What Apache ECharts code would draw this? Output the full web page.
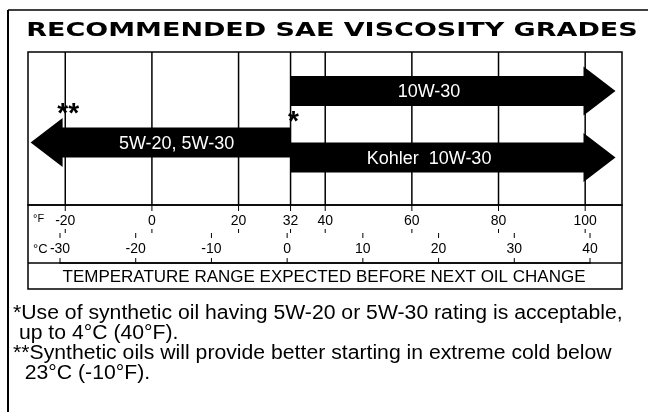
<!DOCTYPE html>
<html lang="en">
<head>
	<meta charset="UTF-8">
	<title>Recommended SAE viscosity grades</title>
	<script src="https://cdn.jsdelivr.net/npm/echarts@6.0.0/dist/echarts.min.js"></script>
	<style>
		html,body{margin:0;padding:0;background:#fff;}
		#chart{width:648px;height:412px;}
	</style>
</head>
<body>
	<div id="chart"></div>
	<script>
	// data
	var grades = ['10W-30', '5W-20, 5W-30', 'Kohler  10W-30'];
	var gradeFromF = [32, 32, 32];     // where each arrow starts, °F
	var gradeToF = [107, -28, 107];    // arrow tip, °F
	var fTicks = [-20, 0, 20, 32, 40, 60, 80, 100];
	var cTicks = [-30, -20, -10, 0, 10, 20, 30, 40];
	var noteF = [-20, 32];
	var noteMarks = ['**', '*'];
	var footnotes = [
		'*Use of synthetic oil having 5W-20 or 5W-30 rating is acceptable,',
		' up to 4°C (40°F).',
		'**Synthetic oils will provide better starting in extreme cold below',
		'  23°C (-10°F).'
	];

	// layout / style
	var FONT = '"Liberation Sans", Arial, sans-serif';
	var laneFrac = [0.255, 0.592, 0.690];  // vertical lane of each arrow inside the plot
	var noteFrac = [0.41, 0.46];
	var BODY = 15, HEAD_H = 24.5, HEAD_L = 32;

	var myChart = echarts.init(document.getElementById('chart'), null, {renderer: 'canvas'});

	// short tick marks drawn with a custom series, so they sit exactly where wanted
	function tickSeries(axisIdx, ticks, marks){
		return {
			type: 'custom', xAxisIndex: axisIdx, yAxisIndex: axisIdx, silent: true, z: 2,
			data: ticks.map(function(v){ return [v]; }),
			encode: {x: 0},
			renderItem: function(params, api){
				var cs = params.coordSys;
				var x = api.coord([api.value(0), 0])[0];
				return {
					type: 'group',
					children: marks.map(function(m){
						var y0 = m[0] === 'top' ? cs.y : cs.y + cs.height;
						return {type: 'line', shape: {x1: x, y1: y0, x2: x, y2: y0 + m[1]},
							style: {stroke: '#000', lineWidth: 1}};
					})
				};
			}
		};
	}

	var option = {
		animation: false,
		grid: [
			{left: 28, top: 52, width: 594, height: 153, show: true, borderColor: '#000', borderWidth: 1.5},
			{left: 28, top: 205, width: 594, height: 28},
			{left: 60, top: 233, width: 530, height: 30}
		],
		xAxis: [
			{gridIndex: 0, type: 'value', min: -28.6, max: 108.5, show: false},
			{
				gridIndex: 1, type: 'value', min: -28.6, max: 108.5, position: 'top',
				axisLine: {show: false}, axisTick: {show: false},
				axisLabel: {inside: true, margin: 9, customValues: fTicks, color: '#000', fontSize: 14, fontFamily: FONT},
				splitLine: {show: false}
			},
			{
				gridIndex: 2, type: 'value', min: -30, max: 40, position: 'top',
				axisLine: {show: true, lineStyle: {color: '#000', width: 1.5}}, axisTick: {show: false},
				axisLabel: {inside: true, margin: 9, customValues: cTicks, color: '#000', fontSize: 14, fontFamily: FONT},
				splitLine: {show: false}
			}
		],
		yAxis: [
			{gridIndex: 0, type: 'value', min: 0, max: 1, show: false},
			{gridIndex: 1, type: 'value', min: 0, max: 1, show: false},
			{gridIndex: 2, type: 'value', min: 0, max: 1, show: false}
		],
		series: [
			{
				// vertical grid lines at the °F ticks
				type: 'custom', xAxisIndex: 0, yAxisIndex: 0, silent: true, z: 1,
				data: fTicks.map(function(v){ return [v]; }),
				encode: {x: 0},
				renderItem: function(params, api){
					var cs = params.coordSys;
					var x = api.coord([api.value(0), 0])[0];
					return {
						type: 'line',
						shape: {x1: x, y1: cs.y, x2: x, y2: cs.y + cs.height},
						style: {stroke: '#000', lineWidth: 1.5}
					};
				}
			},
			tickSeries(1, fTicks, [['top', 6], ['bottom', -4]]),
			tickSeries(2, cTicks, [['top', 5], ['bottom', -5]]),
			{
				// grade arrows
				type: 'custom', xAxisIndex: 0, yAxisIndex: 0, silent: true, z: 3,
				data: grades.map(function(g, i){ return [gradeFromF[i], gradeToF[i]]; }),
				encode: {x: [0, 1]},
				renderItem: function(params, api){
					var cs = params.coordSys;
					var i = params.dataIndex;
					var x0 = api.coord([api.value(0), 0])[0];
					var x1 = api.coord([api.value(1), 0])[0];
					var d = x1 > x0 ? 1 : -1;
					var xb = x1 - d * HEAD_L;
					var y = cs.y + laneFrac[i] * cs.height;
					var pts = [
						[x0, y - BODY], [xb, y - BODY], [xb, y - HEAD_H], [x1, y],
						[xb, y + HEAD_H], [xb, y + BODY], [x0, y + BODY]
					];
					// labels on the right-pointing arrows sit a bit left of the middle
					var lx = (x0 + xb) / 2 - (d > 0 ? 8 : 0);
					return {
						type: 'group',
						children: [
							{type: 'polygon', shape: {points: pts}, style: {fill: '#000'}},
							{type: 'text', style: {
								x: lx, y: y + 1, text: grades[i],
								fill: '#fff', font: '18px ' + FONT,
								align: 'center', verticalAlign: 'middle'
							}}
						]
					};
				}
			},
			{
				// footnote marks
				type: 'custom', xAxisIndex: 0, yAxisIndex: 0, silent: true, z: 4,
				data: noteF.map(function(v){ return [v]; }),
				encode: {x: 0},
				renderItem: function(params, api){
					var cs = params.coordSys;
					var i = params.dataIndex;
					var x = api.coord([api.value(0), 0])[0];
					return {
						type: 'text',
						style: {
							x: x + 3, y: cs.y + noteFrac[i] * cs.height, text: noteMarks[i],
							fill: '#000', font: 'bold 28px ' + FONT,
							align: 'center', verticalAlign: 'middle'
						}
					};
				}
			}
		],
		graphic: [
			{type: 'line', shape: {x1: 8, y1: 10, x2: 8, y2: 412}, style: {stroke: '#000', lineWidth: 2}},
			{type: 'line', shape: {x1: 8, y1: 10, x2: 648, y2: 10}, style: {stroke: '#000', lineWidth: 1.5}},
			{
				type: 'text', x: 332, y: 31, scaleX: 1.42,
				style: {
					text: 'RECOMMENDED SAE VISCOSITY GRADES', fill: '#000',
					font: 'bold 19px "DejaVu Sans", sans-serif',
					align: 'center', verticalAlign: 'middle'
				}
			},
			{type: 'rect', shape: {x: 28, y: 205, width: 594, height: 84}, style: {fill: null, stroke: '#000', lineWidth: 1.5}},
			{type: 'line', shape: {x1: 28, y1: 263, x2: 622, y2: 263}, style: {stroke: '#000', lineWidth: 1.5}},
			{type: 'text', x: 33, y: 219, style: {text: '°F', fill: '#000', font: '11px ' + FONT, verticalAlign: 'middle'}},
			{type: 'text', x: 33, y: 249, style: {text: '°C', fill: '#000', font: '13px ' + FONT, verticalAlign: 'middle'}},
			{
				type: 'text', x: 324, y: 277,
				style: {
					text: 'TEMPERATURE RANGE EXPECTED BEFORE NEXT OIL CHANGE', fill: '#000',
					font: '17px ' + FONT, align: 'center', verticalAlign: 'middle'
				}
			}
		].concat(footnotes.map(function(t, i){
			return {
				type: 'text', x: 13, y: 313 + i * 20, scaleX: 1.06,
				style: {text: t, fill: '#000', font: '20px ' + FONT, verticalAlign: 'middle'}
			};
		}))
	};

	myChart.setOption(option);
	</script>
</body>
</html>
